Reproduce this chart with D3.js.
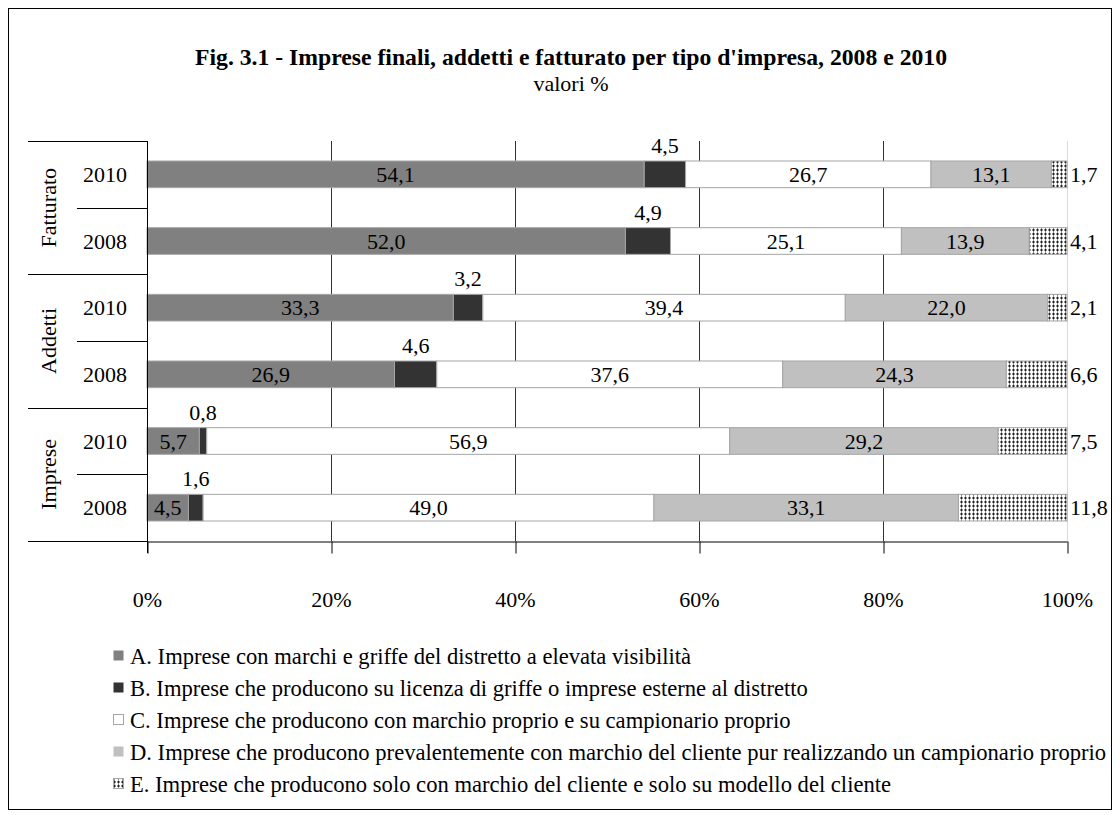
<!DOCTYPE html>
<html>
<head>
<meta charset="utf-8">
<script src="https://cdn.jsdelivr.net/npm/d3@7"></script>
<style>
  body { margin: 0; background: #fff; }
  text { font-family: "Liberation Serif", "Times New Roman", serif; fill: #000; }
</style>
</head>
<body>
<div id="chart"></div>
<script>
// categories (top to bottom)
let groups = ["Fatturato", "Addetti", "Imprese"];
let years = ["2010", "2008"];
let rows = ["Fatturato 2010", "Fatturato 2008", "Addetti 2010", "Addetti 2008", "Imprese 2010", "Imprese 2008"];

// series values, one per row
let serieA = [54.1, 52.0, 33.3, 26.9, 5.7, 4.5];
let serieB = [4.5, 4.9, 3.2, 4.6, 0.8, 1.6];
let serieC = [26.7, 25.1, 39.4, 37.6, 56.9, 49.0];
let serieD = [13.1, 13.9, 22.0, 24.3, 29.2, 33.1];
let serieE = [1.7, 4.1, 2.1, 6.6, 7.5, 11.8];

let legendLabels = [
    "A. Imprese con marchi e griffe del distretto a elevata visibilità",
    "B. Imprese che producono su licenza di griffe o imprese esterne al distretto",
    "C. Imprese che producono con marchio proprio e su campionario proprio",
    "D. Imprese che producono prevalentemente con marchio del cliente pur realizzando un campionario proprio",
    "E. Imprese che producono solo con marchio del cliente e solo su modello del cliente"
];
let xTicks = [0, 0.2, 0.4, 0.6, 0.8, 1];

let keys = ["A", "B", "C", "D", "E"];
let table = rows.map((r, i) => ({
    row: r, A: serieA[i], B: serieB[i], C: serieC[i], D: serieD[i], E: serieE[i]
}));

let W = 1120, H = 818;
let fs = "22px";
let svg = d3.select("#chart").append("svg")
    .attr("width", W).attr("height", H);

// pattern for serie E
let pat = svg.append("defs").append("pattern")
    .attr("id", "dots").attr("width", 4).attr("height", 4)
    .attr("patternUnits", "userSpaceOnUse");
pat.append("rect").attr("width", 4).attr("height", 4).attr("fill", "#fff");
pat.append("rect").attr("x", 1).attr("y", 0.5).attr("width", 1).attr("height", 3).attr("fill", "#222");
pat.append("rect").attr("x", 0).attr("y", 1.5).attr("width", 3).attr("height", 1).attr("fill", "#222");

let fills = { A: "#808080", B: "#333333", C: "#ffffff", D: "#c0c0c0", E: "url(#dots)" };

// outer frame
svg.append("rect").attr("x", 8.5).attr("y", 8.5)
    .attr("width", W - 17).attr("height", H - 17)
    .attr("fill", "none").attr("stroke", "#000");

// title
svg.append("text").attr("x", 571).attr("y", 65).attr("text-anchor", "middle")
    .style("font-size", "23.7px").style("font-weight", "bold")
    .text("Fig. 3.1 - Imprese finali, addetti e fatturato per tipo d'impresa, 2008 e 2010");
svg.append("text").attr("x", 571).attr("y", 91).attr("text-anchor", "middle")
    .style("font-size", fs).text("valori %");

let pLeft = 147, pRight = 1067, pTop = 141, pBottom = 541;

let x = d3.scaleLinear().domain([0, 1]).range([pLeft, pRight]);
let y = d3.scaleBand().domain(rows).range([pTop, pBottom])
    .paddingInner(0.6).paddingOuter(0.3);

// gridlines
svg.append("g").selectAll("line").data(xTicks.slice(1))
    .join("line")
    .attr("x1", d => x(d) + 0.5).attr("x2", d => x(d) + 0.5)
    .attr("y1", pTop).attr("y2", pBottom)
    .attr("stroke", d => d === 1 ? "#d9d9d9" : "#333");

// x axis
let xAxis = svg.append("g")
    .attr("transform", "translate(0," + (pBottom + 0.5) + ")")
    .call(d3.axisBottom(x).tickValues(xTicks).tickFormat(d3.format(".0%"))
        .tickSizeInner(12).tickSizeOuter(0).tickPadding(38));
xAxis.select(".domain").attr("stroke", "#000");
xAxis.selectAll(".tick line").attr("transform", "translate(0.5,0)").attr("stroke", "#000");
xAxis.selectAll("text").style("font-size", fs)
    .style("font-family", "Liberation Serif, serif");

// stacked bars
let stack = d3.stack().keys(keys)
    .offset(d3.stackOffsetExpand);
let series = stack(table);

let layers = svg.append("g").selectAll("g").data(series).join("g")
    .attr("fill", d => fills[d.key]);
layers.selectAll("rect").data(d => d).join("rect")
    .attr("x", d => x(d[0]))
    .attr("y", d => y(d.data.row))
    .attr("width", d => x(d[1]) - x(d[0]))
    .attr("height", y.bandwidth())
    .attr("stroke", "#a6a6a6").attr("stroke-width", 1);

// value labels
let fmt = v => v.toFixed(1).replace(".", ",");
series.forEach(s => {
    let g = svg.append("g");
    s.forEach(d => {
        let v = d.data[s.key];
        let cy = y(d.data.row) + y.bandwidth() / 2;
        let t = g.append("text").style("font-size", fs).text(fmt(v));
        if (s.key === "B") {
            t.attr("x", x((d[0] + d[1]) / 2)).attr("y", y(d.data.row) - 8)
             .attr("text-anchor", "middle");
        } else if (s.key === "E") {
            t.attr("x", x(1) + 3).attr("y", cy).attr("dy", "0.35em");
        } else {
            t.attr("x", x((d[0] + d[1]) / 2)).attr("y", cy)
             .attr("dy", "0.35em").attr("text-anchor", "middle");
        }
    });
});

// left category axis
let la = svg.append("g");
la.append("line").attr("x1", pLeft + 0.5).attr("x2", pLeft + 0.5)
    .attr("y1", pTop).attr("y2", pBottom + 12).attr("stroke", "#000");
let step = y.step();
let edges = d3.range(rows.length + 1).map(i => pTop + i * step);
la.selectAll("line.sep").data(edges).join("line").attr("class", "sep")
    .attr("x1", (d, i) => i % 2 === 0 ? 28 : 77)
    .attr("x2", pLeft)
    .attr("y1", d => Math.round(d) + 0.5).attr("y2", d => Math.round(d) + 0.5)
    .attr("stroke", "#000");
la.selectAll("text.yr").data(rows).join("text").attr("class", "yr")
    .attr("x", 105).attr("y", d => y(d) + y.bandwidth() / 2)
    .attr("dy", "0.35em").attr("text-anchor", "middle")
    .style("font-size", fs)
    .text((d, i) => years[i % 2]);
la.selectAll("text.grp").data(groups).join("text").attr("class", "grp")
    .attr("transform", (d, i) => "translate(56," + (pTop + (i * 2 + 1) * step) + ") rotate(-90)")
    .attr("text-anchor", "middle")
    .style("font-size", fs)
    .text(d => d);

// legend
let leg = svg.append("g").selectAll("g").data(keys).join("g")
    .attr("transform", (d, i) => "translate(113," + (656 + i * 32) + ")");
leg.append("rect").attr("x", 0.5).attr("y", -5.5).attr("width", 10).attr("height", 10)
    .attr("fill", d => fills[d])
    .attr("stroke", d => d === "C" || d === "E" ? "#a6a6a6" : "none");
leg.append("text").attr("x", 17).attr("dy", "0.35em")
    .style("font-size", "22.6px")
    .text((d, i) => legendLabels[i]);
</script>
</body>
</html>
